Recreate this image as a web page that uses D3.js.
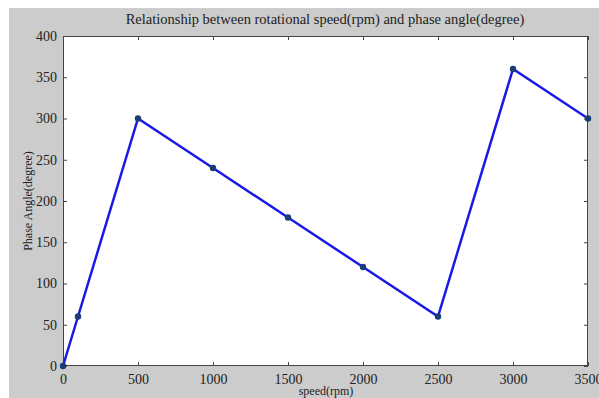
<!DOCTYPE html>
<html><head><meta charset="utf-8">
<script src="https://cdn.jsdelivr.net/npm/d3@7"></script>
<style>html,body{margin:0;padding:0;background:#fff;}svg{display:block;}</style>
</head><body>
<svg id="c" width="599" height="398"></svg>
<script>
const speeds = [0, 100, 500, 1000, 1500, 2000, 2500, 3000, 3500];
const angles = [0, 60, 300, 240, 180, 120, 60, 360, 300];
const xTicks = [0, 500, 1000, 1500, 2000, 2500, 3000, 3500];
const yTicks = [0, 50, 100, 150, 200, 250, 300, 350, 400];
const title = "Relationship between rotational speed(rpm) and phase angle(degree)";
const xLabel = "speed(rpm)";
const yLabel = "Phase Angle(degree)";

const svg = d3.select("#c");
const font = "'Liberation Serif','Times New Roman',serif";
svg.append("rect").attr("x",9).attr("y",8).attr("width",590).attr("height",390).attr("fill","#cccccc");

const L=63, R=588, T=36, B=366;
const x = d3.scaleLinear().domain([0,3500]).range([L,R]);
const y = d3.scaleLinear().domain([0,400]).range([B,T]);

svg.append("rect").attr("x",L).attr("y",T).attr("width",R-L).attr("height",B-T).attr("fill","#fff");

const tl = 4;
function styleAxis(g){
  g.select(".domain").remove();
  g.selectAll("line").attr("stroke","#444").attr("stroke-width",1);
  g.selectAll("text").attr("font-family",font).attr("font-size",14).attr("fill","#222");
}
const xb = svg.append("g").attr("transform",`translate(0,${B})`)
  .call(d3.axisBottom(x).tickValues(xTicks).tickSize(-tl).tickPadding(8).tickFormat(d3.format("d")));
styleAxis(xb);
xb.selectAll("text").attr("dy","0.71em");
const xt = svg.append("g").attr("transform",`translate(0,${T})`)
  .call(d3.axisTop(x).tickValues(xTicks).tickSize(-tl).tickFormat(""));
styleAxis(xt);
const yl = svg.append("g").attr("transform",`translate(${L},0)`)
  .call(d3.axisLeft(y).tickValues(yTicks).tickSize(-tl).tickPadding(6).tickFormat(d3.format("d")));
styleAxis(yl);
const yr = svg.append("g").attr("transform",`translate(${R},0)`)
  .call(d3.axisRight(y).tickValues(yTicks).tickSize(-tl).tickFormat(""));
styleAxis(yr);

svg.append("rect").attr("x",L+0.5).attr("y",T+0.5).attr("width",R-L-1).attr("height",B-T-1)
  .attr("fill","none").attr("stroke","#444").attr("stroke-width",1);

const pts = speeds.map((s,i)=>[s,angles[i]]);
svg.append("path").datum(pts)
  .attr("d", d3.line().x(d=>x(d[0])).y(d=>y(d[1])))
  .attr("fill","none").attr("stroke","#1a1ae6").attr("stroke-width",2.5);
svg.selectAll("circle.pt").data(pts).enter().append("circle")
  .attr("cx",d=>x(d[0])).attr("cy",d=>y(d[1])).attr("r",3.2).attr("fill","#1c3d73");

svg.append("text").attr("x",325).attr("y",24).attr("text-anchor","middle")
  .attr("font-family",font).attr("font-size",14.5).attr("fill","#222").text(title);
svg.append("text").attr("x",326).attr("y",395).attr("text-anchor","middle")
  .attr("font-family",font).attr("font-size",12).attr("fill","#222").text(xLabel);
svg.append("text").attr("transform","translate(32,201) rotate(-90)").attr("text-anchor","middle")
  .attr("font-family",font).attr("font-size",12).attr("fill","#222").text(yLabel);
</script>
</body></html>
